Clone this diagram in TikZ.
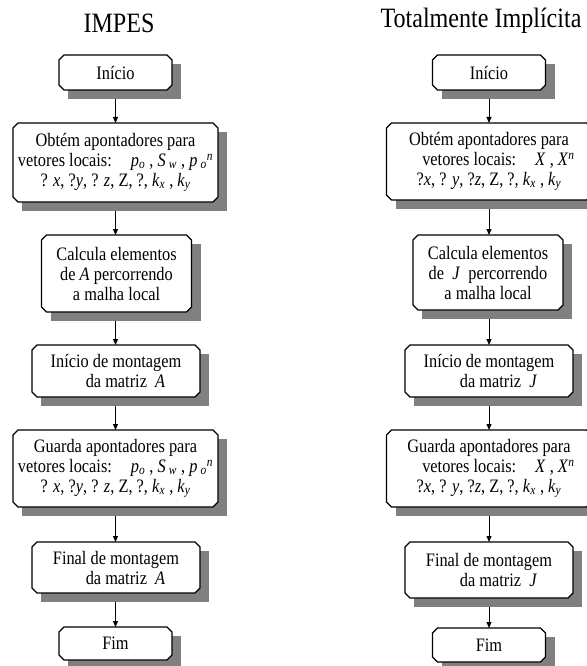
\documentclass[tikz,border=0pt]{standalone}
\usepackage{fontspec}
\setmainfont{Liberation Serif}[FakeStretch=0.86]
\usetikzlibrary{arrows.meta,calc}
\definecolor{shadowgray}{gray}{0.5}
\newcommand\mi[1]{\textit{#1}}
\newcommand\sbi[1]{\textsubscript{\textit{#1}}}
\newcommand\spi[1]{\textsuperscript{\textit{#1}}}
% name, center x, top y, width, height, text
\newcommand\flowbox[6]{%
 \fill[shadowgray] ({#2-#4/2+9},{#3+9}) rectangle ({#2+#4/2+9},{#3+#5+9});
 \filldraw[boxline] ({#2-#4/2+5},{#3}) -- ({#2+#4/2-5},{#3}) -- ({#2+#4/2},{#3+5}) -- ({#2+#4/2},{#3+#5-5}) -- ({#2+#4/2-5},{#3+#5}) -- ({#2-#4/2+5},{#3+#5}) -- ({#2-#4/2},{#3+#5-5}) -- ({#2-#4/2},{#3+5}) -- cycle;
 \node[fbox, minimum width=#4pt, minimum height=#5pt] (#1) at ({#2},{#3+#5/2}) {#6};
}
\tikzset{
 fbox/.style={rectangle, align=center, inner sep=1pt, outer sep=0pt,
   font=\fontsize{19}{20}\selectfont},
 boxline/.style={line width=1.2pt, line join=miter, draw=black, fill=white},
 flow/.style={-{Triangle[length=6pt,width=5pt]}, line width=1pt},
 ttl/.style={font=\fontsize{28}{30}\selectfont}
}
\begin{document}
\begin{tikzpicture}[x=1pt,y=-1pt]
\useasboundingbox (0,0) rectangle (586,666);
\node[ttl] (t1) at (119,23) {IMPES};
\node[ttl] (t2) at (481,21) {Totalmente Implícita};
% left column
\flowbox{l1}{115.5}{55}{113}{35}{Início}
\flowbox{l2}{115.5}{123}{205}{79}{Obtém apontadores para\\ vetores locais:\quad \mi{p}\sbi{o} , \mi{S}\,\sbi{w} , \mi{p}\,\sbi{o}\spi{n}\\ ? \mi{x}, ?\mi{y}, ? \mi{z}, Z, ?, \mi{k}\sbi{x} , \mi{k}\sbi{y}}
\flowbox{l3}{116.5}{235}{150}{77}{Calcula elementos\\ de \mi{A} percorrendo\\ a malha local}
\flowbox{l4}{116}{345}{168}{52}{Início de montagem\\ \quad da matriz \ \mi{A}}
\flowbox{l5}{115.5}{430}{205}{77}{Guarda apontadores para\\ vetores locais:\quad \mi{p}\sbi{o} , \mi{S}\,\sbi{w} , \mi{p}\,\sbi{o}\spi{n}\\ ? \mi{x}, ?\mi{y}, ? \mi{z}, Z, ?, \mi{k}\sbi{x} , \mi{k}\sbi{y}}
\flowbox{l6}{116}{542}{168}{51}{Final de montagem\\ \quad da matriz \ \mi{A}}
\flowbox{l7}{115.5}{627}{113}{33}{Fim}
% right column
\flowbox{r1}{489}{55}{113}{35}{Início}
\flowbox{r2}{489}{123}{205}{77}{Obtém apontadores para\\ \quad vetores locais:\quad \mi{X} , \mi{X}\spi{n}\\ ?\mi{x}, ? \mi{y}, ?\mi{z}, Z, ?, \mi{k}\sbi{x} , \mi{k}\sbi{y}}
\flowbox{r3}{488}{235}{150}{75}{Calcula elementos\\ de \ \mi{J} \ percorrendo\\ a malha local}
\flowbox{r4}{489}{345}{168}{52}{Início de montagem\\ \quad da matriz \ \mi{J}}
\flowbox{r5}{489}{430}{205}{77}{Guarda apontadores para\\ \quad vetores locais:\quad \mi{X} , \mi{X}\spi{n}\\ ?\mi{x}, ? \mi{y}, ?\mi{z}, Z, ?, \mi{k}\sbi{x} , \mi{k}\sbi{y}}
\flowbox{r6}{489}{542}{168}{56}{Final de montagem\\ \quad da matriz \ \mi{J}}
\flowbox{r7}{489}{628}{113}{34}{Fim}
% connectors
\foreach \a/\b in {l1/l2,l2/l3,l3/l4,l4/l5,l5/l6,l6/l7}
  \draw[flow] ($(115.5,0 |- \a.south)+(0,9)$) -- (115.5,0 |- \b.north);
\foreach \a/\b in {r1/r2,r2/r3,r3/r4,r4/r5,r5/r6,r6/r7}
  \draw[flow] ($(489,0 |- \a.south)+(0,9)$) -- (489,0 |- \b.north);
\end{tikzpicture}
\end{document}
